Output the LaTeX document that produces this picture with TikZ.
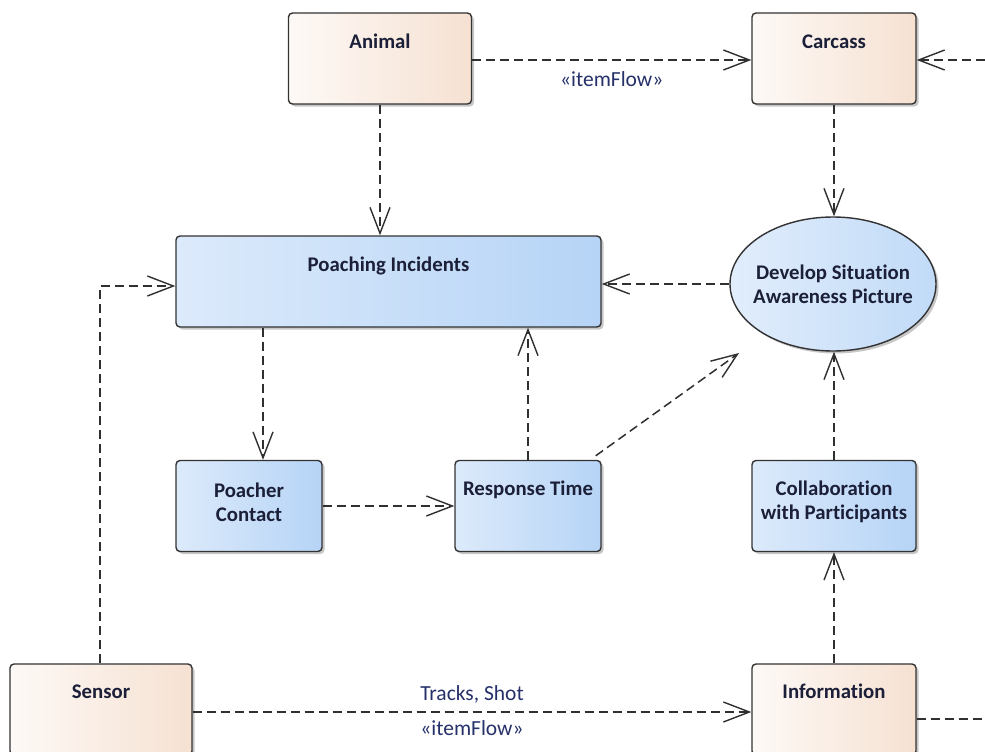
\documentclass[tikz,border=0pt]{standalone}
\usepackage{fontspec}
\setmainfont{Carlito}[Ligatures=NoCommon]
\usetikzlibrary{arrows.meta,shadows,shapes.geometric}

\definecolor{peachL}{HTML}{FDF9F6}
\definecolor{peachR}{HTML}{F6E1D2}
\definecolor{blueL}{HTML}{DCEAFB}
\definecolor{blueR}{HTML}{B6D4F6}
\definecolor{ink}{HTML}{1B1F38}
\definecolor{wire}{HTML}{303030}
\definecolor{flowtxt}{HTML}{26306A}

\tikzset{
  box/.style={draw=black!80, line width=1.4pt, inner sep=0pt,
    drop shadow={shadow xshift=2.5pt, shadow yshift=-2.5pt, opacity=0.22, fill=black}},
  block/.style={box, rounded corners=4pt, left color=peachL, right color=peachR},
  req/.style={box, rounded corners=4pt, left color=blueL, right color=blueR},
  usecase/.style={box, ellipse, left color=blueL!85!white, right color=blueR!85!white},
  lbl/.style={font=\fontsize{20.8}{24}\selectfont\bfseries, text=ink, align=center, inner sep=0pt},
  flowlbl/.style={font=\fontsize{21.5}{24}\selectfont, text=flowtxt, inner sep=0pt},
  flow/.style={draw=wire, line width=1.5pt, dash pattern=on 9pt off 5pt,
    -{Straight Barb[length=26pt, width=20pt, line width=1.4pt]}},
  plainflow/.style={draw=wire, line width=1.5pt, dash pattern=on 9pt off 5pt}
}

\begin{document}
\begin{tikzpicture}[x=1pt, y=-1pt]
  \clip (0,0) rectangle (985,752);
  \fill[white] (0,0) rectangle (985,752);

  % blocks
  \node[block, minimum width=183pt, minimum height=91pt] (animal) at (380,58.5) {};
  \node[block, minimum width=164pt, minimum height=91pt] (carcass) at (834,58.5) {};
  \node[block, minimum width=182pt, minimum height=91pt] (sensor) at (101,709.5) {};
  \node[block, minimum width=164pt, minimum height=91pt] (info) at (834,709.5) {};

  % requirements / measures
  \node[req, minimum width=425pt, minimum height=91pt] (poach) at (388.5,281.5) {};
  \node[req, minimum width=146pt, minimum height=91pt] (pc) at (249,506) {};
  \node[req, minimum width=146pt, minimum height=91pt] (rt) at (528,506) {};
  \node[req, minimum width=164pt, minimum height=91pt] (collab) at (834,506) {};

  % activity
  \node[usecase, minimum width=206pt, minimum height=134pt] (dsa) at (833,284) {};

  % titles
  \node[lbl] (animal-t) at ([yshift=-29pt]animal.north) {Animal};
  \node[lbl] (carcass-t) at ([yshift=-29pt]carcass.north) {Carcass};
  \node[lbl] (sensor-t) at ([yshift=-28pt]sensor.north) {Sensor};
  \node[lbl] (info-t) at ([yshift=-28pt]info.north) {Information};
  \node[lbl] (poach-t) at ([yshift=-31pt]poach.north) {Poaching Incidents};
  \node[lbl] (pc-t) at ([yshift=-42pt]pc.north) {Poacher\\Contact};
  \node[lbl] (rt-t) at ([yshift=-30pt]rt.north) {Response Time};
  \node[lbl] (collab-t) at ([yshift=-42pt]collab.north) {Collaboration\\with Participants};
  \node[lbl] (dsa-t) at (dsa.center) {Develop Situation\\Awareness Picture};

  % free ends
  \coordinate (inR) at (985,60);
  \coordinate (outR) at (985,719);
  \coordinate (dsa-tip) at (739,353);

  % connectors
  \draw[flow] (animal.east |- 0,60) -- (carcass.west |- 0,60)
    node[flowlbl, midway, below=11pt] (if1) {«itemFlow»};
  \draw[flow] (inR) -- (carcass.east |- inR);
  \draw[flow] (animal.south) -- (animal.south |- poach.north);
  \draw[flow] (carcass.south) -- (carcass.south |- dsa.north);
  \draw[flow] (dsa.west) -- (dsa.west -| poach.east);
  \draw[flow] (sensor.north -| 100,0) |- ([yshift=-4.5pt]poach.west);
  \draw[flow] ([xshift=14pt]pc.north |- poach.south) -- ([xshift=14pt]pc.north);
  \draw[flow] (pc.east) -- (rt.west);
  \draw[flow] (rt.north) -- (rt.north |- poach.south);
  \draw[flow] ([xshift=-6pt,yshift=4pt]rt.north east) -- (dsa-tip);
  \draw[flow] (collab.north) -- (collab.north |- dsa.south);
  \draw[flow] (info.north) -- (info.north |- collab.south);
  \draw[flow] (sensor.east |- 0,712) -- (info.west |- 0,712)
    node[flowlbl, midway, above=8pt] (ts) {Tracks, Shot}
    node[flowlbl, midway, below=8pt] (if2) {«itemFlow»};
  \draw[plainflow] (info.east |- outR) -- (outR);
\end{tikzpicture}
\end{document}
